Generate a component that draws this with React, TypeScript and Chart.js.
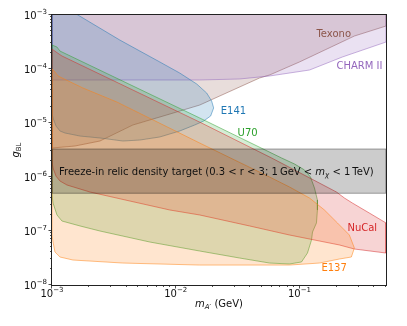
import React, { useEffect, useRef } from 'react';
import { Chart, registerables } from 'chart.js';

Chart.register(...registerables);

const X_MIN = 1e-3;
const X_MAX = 0.5;
const Y_MIN = 1e-8;
const Y_MAX = 1e-3;

const X_TICKS = [1e-3, 1e-2, 1e-1];
const X_TICK_EXPS = [-3, -2, -1];
const Y_TICKS = [1e-8, 1e-7, 1e-6, 1e-5, 1e-4, 1e-3];
const Y_TICK_EXPS = [-8, -7, -6, -5, -4, -3];

// Texono (excluded above the line)
const texonoX = [1e-3, 1.533e-3, 2.44e-3, 4.5e-3, 8.46e-3, 1.561e-2, 4.75e-2, 5.73e-2, 0.1, 0.2776, 0.5, 0.5, 1e-3];
const texonoY = [3.44e-6, 3.75e-6, 4.64e-6, 9.18e-6, 1.41e-5, 2.15e-5, 6.81e-5, 7.74e-5, 1.35e-4, 4.08e-4, 6.25e-4, 2e-3, 2e-3];

// CHARM II (excluded above the curve)
const charmX = [1e-3, 1.561e-2, 3.28e-2, 4.75e-2, 5.73e-2, 0.1205, 0.2223, 0.5, 0.5, 1e-3];
const charmY = [6.26e-5, 6.26e-5, 6.53e-5, 7.11e-5, 7.42e-5, 9.58e-5, 1.67e-4, 3.16e-4, 2e-3, 2e-3];

// E141
const e141X = [1e-3, 1.62e-3, 3.53e-3, 5.13e-3, 7.43e-3, 1.076e-2, 1.476e-2, 1.778e-2, 1.95e-2, 2.024e-2, 1.915e-2, 1.683e-2, 1.422e-2, 1.076e-2, 7.43e-3, 5.13e-3, 3.74e-3, 2.44e-3, 1.683e-3, 1.273e-3, 1.16e-3, 1.077e-3, 1.019e-3, 1e-3];
const e141Y = [1.98e-3, 1e-3, 3.44e-4, 2.15e-4, 1.35e-4, 8.43e-5, 5.28e-5, 3.59e-5, 2.55e-5, 1.9e-5, 1.35e-5, 1.09e-5, 9.18e-6, 7.11e-6, 5.51e-6, 4.84e-6, 4.64e-6, 5.28e-6, 5.74e-6, 6.53e-6, 7.11e-6, 8.8e-6, 1.24e-5, 1.5e-5];

// U70
const u70X = [1e-3, 1.097e-3, 1.16e-3, 1.561e-2, 7.16e-2, 9.12e-2, 0.1097, 0.1227, 0.1321, 0.1396, 0.1396, 0.1371, 0.1274, 0.125, 0.116, 0.1038, 8.3e-2, 5.73e-2, 3.28e-2, 1.561e-2, 6.17e-3, 2.44e-3, 1.683e-3, 1.204e-3, 1.097e-3, 1.019e-3, 1e-3];
const u70Y = [2.78e-4, 2.55e-4, 2.15e-4, 1.24e-5, 2.25e-6, 1.74e-6, 1.35e-6, 1e-6, 6.26e-7, 3.75e-7, 2.45e-7, 1.41e-7, 9.58e-8, 6.81e-8, 3.91e-8, 2.67e-8, 2.45e-8, 2.55e-8, 3.16e-8, 4.26e-8, 6.25e-8, 1e-7, 1.24e-7, 1.53e-7, 1.98e-7, 3.3e-7, 4.64e-7];

// NuCal
const nucalX = [1e-3, 1.077e-3, 1.204e-3, 1.561e-2, 5.95e-2, 0.1987, 0.2307, 0.2673, 0.3669, 0.5, 0.5, 0.2776, 0.2102, 0.1449, 8.3e-2, 3.95e-2, 1.561e-2, 8.95e-3, 4.26e-3, 2.02e-3, 1.321e-3, 1.16e-3, 1.077e-3, 1.019e-3, 1e-3];
const nucalY = [2.34e-4, 2.07e-4, 1.74e-4, 1.04e-5, 2.25e-6, 5.28e-7, 4.08e-7, 3.3e-7, 2.15e-7, 1.41e-7, 3.91e-8, 4.64e-8, 5.51e-8, 6.53e-8, 8.43e-8, 1.24e-7, 1.98e-7, 2.45e-7, 3.59e-7, 5.28e-7, 7.11e-7, 8.43e-7, 1.04e-6, 1.47e-6, 1.9e-6];

// E137
const e137X = [1e-3, 1.057e-3, 1.118e-3, 1.778e-3, 3.34e-3, 1.561e-2, 5.73e-2, 8.3e-2, 0.1205, 0.159, 0.2025, 0.253, 0.2776, 0.2625, 0.2102, 0.1449, 8.3e-2, 1.561e-2, 3.74e-3, 1.476e-3, 1.16e-3, 1.057e-3, 1.019e-3, 1e-3];
const e137Y = [1e-4, 8.8e-5, 7.42e-5, 4.45e-5, 2.45e-5, 4.26e-6, 1e-6, 6.53e-7, 4.08e-7, 2.45e-7, 1.41e-7, 8.43e-8, 4.84e-8, 3.3e-8, 3.03e-8, 2.55e-8, 2.34e-8, 2.34e-8, 2.55e-8, 2.9e-8, 3.3e-8, 4.08e-8, 6.25e-8, 8.43e-8];

// Freeze-in relic density band
const freezeX = [1e-3, 0.5, 0.5, 1e-3];
const freezeY = [5e-7, 5e-7, 3.3e-6, 3.3e-6];

// Region labels: text, anchor x, anchor y (left / middle)
const LABEL_TEXT = ['Texono', 'CHARM II', 'E141', 'U70', 'NuCal', 'E137'];
const LABEL_X = [0.1371, 0.1987, 2.31e-2, 3.16e-2, 0.2438, 0.1504];
const LABEL_Y = [4.64e-4, 1.14e-4, 1.74e-5, 6.81e-6, 1.14e-7, 2.15e-8];
const LABEL_COLOR = ['#8c564b', '#9467bd', '#1f77b4', '#2ca02c', '#d62728', '#ff7f0e'];

const FREEZE_TEXT_X = 1.139e-3;
const FREEZE_TEXT_Y = 1.24e-6;

const FONT = '"DejaVu Sans", sans-serif';

function region(label: string, xs: number[], ys: number[], rgb: string, fa: number, la: number, lw = 1) {
  const data = xs.map((x, i) => ({ x, y: ys[i] }));
  data.push({ x: xs[0], y: ys[0] });
  return {
    label,
    data,
    fill: 'shape',
    backgroundColor: `rgba(${rgb},${fa})`,
    borderColor: `rgba(${rgb},${la})`,
    borderWidth: lw,
    pointRadius: 0,
    tension: 0,
  };
}

type Seg = { t: string; f: string; dy?: number };

function drawSegs(ctx: CanvasRenderingContext2D, segs: Seg[], x: number, y: number, align: string) {
  const widths = segs.map((s) => {
    ctx.font = s.f;
    return ctx.measureText(s.t).width;
  });
  const total = widths.reduce((a, b) => a + b, 0);
  let cx = align === 'center' ? x - total / 2 : align === 'right' ? x - total : x;
  ctx.textAlign = 'left';
  ctx.textBaseline = 'alphabetic';
  segs.forEach((s, i) => {
    ctx.font = s.f;
    ctx.fillText(s.t, cx, y + (s.dy || 0));
    cx += widths[i];
  });
}

function powSegs(exp: number): Seg[] {
  return [
    { t: '10', f: `10px ${FONT}` },
    { t: '\u2212' + Math.abs(exp), f: `7px ${FONT}`, dy: -5 },
  ];
}

const overlay = {
  id: 'overlay',
  afterDraw(chart: any) {
    const { ctx, chartArea: ca } = chart;
    const xs = chart.scales.x;
    const ys = chart.scales.y;
    ctx.save();
    // frame
    ctx.strokeStyle = '#222';
    ctx.lineWidth = 1;
    ctx.strokeRect(ca.left - 0.5, ca.top - 0.5, ca.right - ca.left + 1, ca.bottom - ca.top + 1);
    // ticks
    ctx.beginPath();
    for (let d = -3; d <= -1; d++) {
      for (let m = 1; m <= 9; m++) {
        const v = m * Math.pow(10, d);
        if (v < X_MIN * 0.999 || v > X_MAX * 1.001) continue;
        const px = Math.round(xs.getPixelForValue(v)) - 0.5;
        const len = m === 1 ? 3.5 : 2;
        ctx.moveTo(px, ca.bottom);
        ctx.lineTo(px, ca.bottom + len);
      }
    }
    for (let d = -8; d <= -3; d++) {
      for (let m = 1; m <= 9; m++) {
        const v = m * Math.pow(10, d);
        if (v < Y_MIN * 0.999 || v > Y_MAX * 1.001) continue;
        const py = Math.round(ys.getPixelForValue(v)) - 0.5;
        const len = m === 1 ? 3.5 : 2;
        ctx.moveTo(ca.left, py);
        ctx.lineTo(ca.left - len, py);
      }
    }
    ctx.strokeStyle = '#222';
    ctx.lineWidth = 0.8;
    ctx.stroke();

    ctx.fillStyle = '#111';
    X_TICKS.forEach((v, i) => {
      drawSegs(ctx, powSegs(X_TICK_EXPS[i]), xs.getPixelForValue(v), ca.bottom + 12, 'center');
    });
    Y_TICKS.forEach((v, i) => {
      drawSegs(ctx, powSegs(Y_TICK_EXPS[i]), ca.left - 5, ys.getPixelForValue(v) + 4, 'right');
    });

    // axis titles
    drawSegs(
      ctx,
      [
        { t: 'm', f: `italic 10px ${FONT}` },
        { t: 'A\u2032', f: `italic 7px ${FONT}`, dy: 2 },
        { t: ' (GeV)', f: `10px ${FONT}` },
      ],
      (ca.left + ca.right) / 2,
      ca.bottom + 22,
      'center'
    );
    ctx.save();
    ctx.translate(ca.left - 33, (ca.top + ca.bottom) / 2);
    ctx.rotate(-Math.PI / 2);
    drawSegs(
      ctx,
      [
        { t: 'g', f: `italic 10px ${FONT}` },
        { t: 'BL', f: `7px ${FONT}`, dy: 2 },
      ],
      0,
      0,
      'center'
    );
    ctx.restore();

    // region labels
    LABEL_TEXT.forEach((t, i) => {
      ctx.fillStyle = LABEL_COLOR[i];
      drawSegs(ctx, [{ t, f: `10px ${FONT}` }], xs.getPixelForValue(LABEL_X[i]), ys.getPixelForValue(LABEL_Y[i]) + 3.5, 'left');
    });

    // freeze-in text
    ctx.fillStyle = '#111';
    drawSegs(
      ctx,
      [
        { t: 'Freeze-in relic density target (0.3 < r < 3; 1\u2009GeV < ', f: `10px ${FONT}` },
        { t: 'm', f: `italic 10px ${FONT}` },
        { t: '\u03c7', f: `italic 7px ${FONT}`, dy: 2 },
        { t: ' < 1\u2009TeV)', f: `10px ${FONT}` },
      ],
      xs.getPixelForValue(FREEZE_TEXT_X),
      ys.getPixelForValue(FREEZE_TEXT_Y) + 3.5,
      'left'
    );
    ctx.restore();
  },
};

export default function App() {
  const ref = useRef<HTMLCanvasElement | null>(null);
  useEffect(() => {
    const canvas = ref.current;
    if (!canvas) return;
    const chart = new Chart(canvas, {
      type: 'line',
      data: {
        datasets: [
          region('Freeze-in', freezeX, freezeY, '0,0,0', 0.2, 0.35, 1.2),
          region('E137', e137X, e137Y, '255,127,14', 0.2, 0.5),
          region('NuCal', nucalX, nucalY, '214,39,40', 0.2, 0.5),
          region('U70', u70X, u70Y, '44,160,44', 0.2, 0.5),
          region('E141', e141X, e141Y, '31,119,180', 0.2, 0.5),
          region('CHARM II', charmX, charmY, '148,103,189', 0.2, 0.5),
          region('Texono', texonoX, texonoY, '140,86,75', 0.2, 0.5),
        ] as any,
      },
      options: {
        responsive: false,
        animation: false,
        devicePixelRatio: 1,
        layout: { padding: { left: 52, right: 21, top: 15, bottom: 41 } },
        plugins: { legend: { display: false }, tooltip: { enabled: false } },
        scales: {
          x: { type: 'logarithmic', min: X_MIN, max: X_MAX, display: false },
          y: { type: 'logarithmic', min: Y_MIN, max: Y_MAX, display: false },
        },
        elements: { line: { borderJoinStyle: 'round' } },
      } as any,
      plugins: [overlay],
    });
    return () => chart.destroy();
  }, []);
  return (
    <div style={{ position: 'fixed', left: 0, top: 0, width: 407, height: 326, background: '#fff' }}>
      <canvas ref={ref} width={407} height={326} style={{ display: 'block' }} />
    </div>
  );
}
